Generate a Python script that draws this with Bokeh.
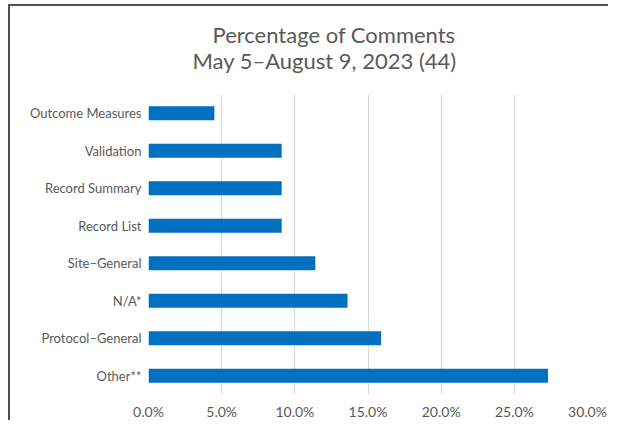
from bokeh.plotting import figure
from bokeh.models import FactorRange, Range1d, FixedTicker, NumeralTickFormatter, Title, ColumnDataSource
from bokeh.embed import file_html
from bokeh.resources import INLINE

categories = ["Outcome Measures", "Validation", "Record Summary", "Record List",
              "Site–General", "N/A*", "Protocol–General", "Other**"]
percentages = [0.045, 0.091, 0.091, 0.091, 0.114, 0.136, 0.159, 0.273]
x_ticks = [0.0, 0.05, 0.10, 0.15, 0.20, 0.25, 0.30]
title_line1 = "Percentage of Comments"
title_line2 = "May 5–August 9, 2023 (44)"

FONT = "Lato"
TXT = "#595959"

factors = list(reversed(categories))
src = ColumnDataSource(dict(cat=categories, val=percentages))

p = figure(width=600, height=416, y_range=FactorRange(factors=factors),
           x_range=Range1d(0, 0.30), output_backend="svg", toolbar_location=None,
           min_border_left=138, min_border_right=23, min_border_bottom=28,
           min_border_top=88, title=None)

p.hbar(y="cat", right="val", left=0, height=0.375, source=src,
       fill_color="#0070C0", line_color=None)

p.xaxis.ticker = FixedTicker(ticks=x_ticks)
p.xaxis.formatter = NumeralTickFormatter(format="0.0%")
for ax in (p.xaxis, p.yaxis):
    ax.axis_line_color = None
    ax.major_tick_line_color = None
    ax.minor_tick_line_color = None
    ax.major_tick_in = 0
    ax.major_tick_out = 0
    ax.minor_tick_in = 0
    ax.minor_tick_out = 0
    ax.major_label_text_font = FONT
    ax.major_label_text_color = TXT
p.xaxis.major_label_text_font_size = "14px"
p.yaxis.major_label_text_font_size = "13px"
p.xaxis.major_label_standoff = 8
p.yaxis.major_label_standoff = 7

p.ygrid.grid_line_color = None
p.xgrid.grid_line_color = "#d9d9d9"
p.outline_line_color = None

t2 = Title(text=title_line2, align="left", text_font=FONT, text_font_size="22px",
           text_color=TXT, text_font_style="normal", offset=44, standoff=41)
t1 = Title(text=title_line1, align="left", text_font=FONT, text_font_size="22px",
           text_color=TXT, text_font_style="normal", offset=64, standoff=-47)
p.add_layout(t2, "above")
p.add_layout(t1, "above")

p.styles = {"border-left": "2px solid #505050", "border-top": "2px solid #505050",
            "margin-left": "8px", "margin-top": "4px"}

open("out.html", "w").write(file_html(p, INLINE))
